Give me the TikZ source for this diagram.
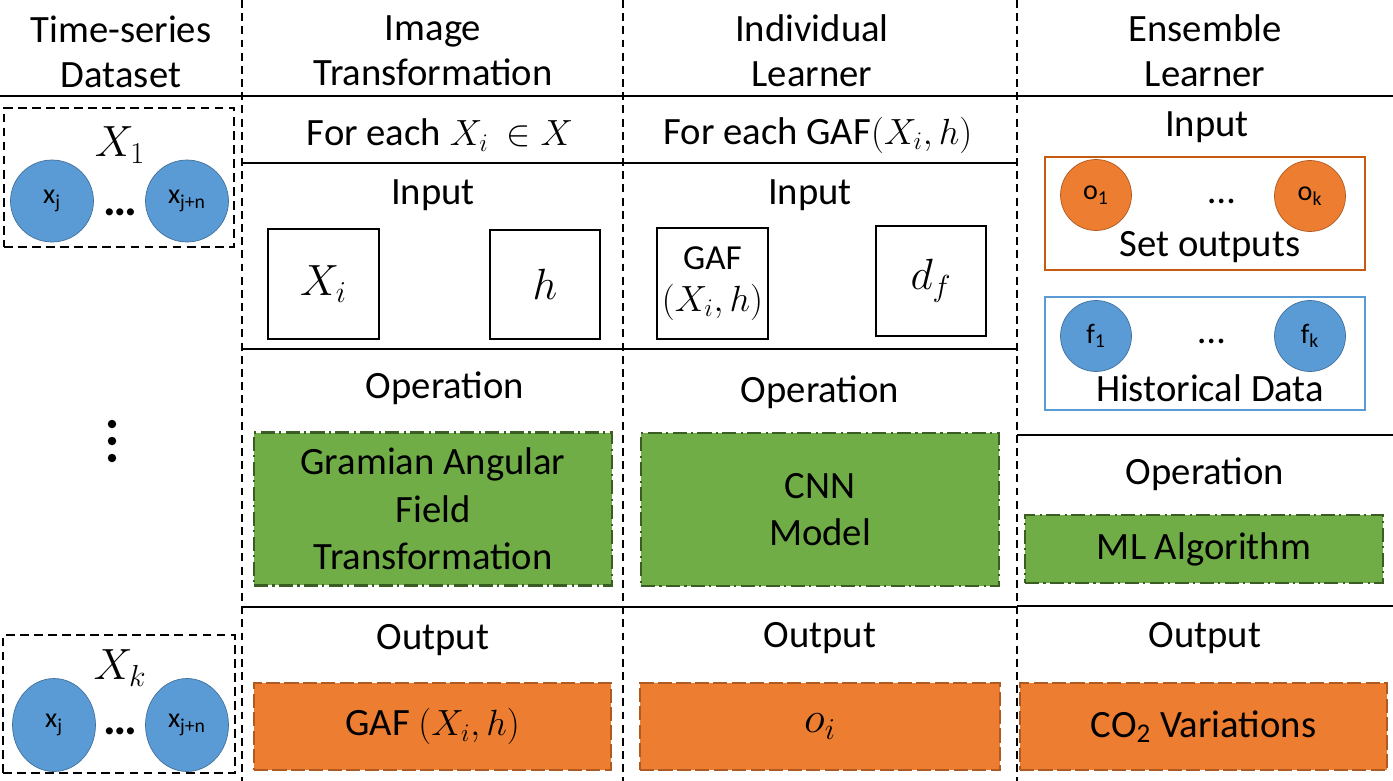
\documentclass[tikz,border=0pt]{standalone}
\usepackage{fontspec, tikz}
\setmainfont{Carlito}
\usetikzlibrary{shapes.geometric}
\definecolor{ptblue}{HTML}{5B9BD5}
\definecolor{ptblueD}{HTML}{41719C}
\definecolor{outorange}{HTML}{ED7D31}
\definecolor{outorangeD}{HTML}{AE5A21}
\definecolor{setorange}{HTML}{C55A11}
\definecolor{opgreen}{HTML}{70AD47}
\definecolor{opgreenD}{HTML}{3A5D23}

\tikzset{
  txt/.style={font=\fontsize{22}{25.6}\selectfont, align=center, inner sep=0pt},
  bigmath/.style={font=\fontsize{27}{30}\selectfont, inner sep=0pt},
  bigdots/.style={font=\fontsize{27}{30}\selectfont\bfseries, inner sep=0pt},
  colsep/.style={line width=0.85pt, dash pattern=on 4.5pt off 3pt},
  rowsep/.style={line width=1.1pt},
  databox/.style={draw, line width=1pt, dash pattern=on 5pt off 3pt, inner sep=0pt},
  inbox/.style={draw, line width=1.1pt, inner sep=0pt, font=\fontsize{27}{30}\selectfont},
  opbox/.style={draw=opgreenD, fill=opgreen, line width=1.5pt,
    dash pattern=on 8pt off 2.5pt on 1.2pt off 2.5pt, inner sep=0pt,
    align=center, font=\fontsize{22}{27}\selectfont},
  outbox/.style={draw=outorangeD, fill=outorange, line width=1.5pt,
    dash pattern=on 8pt off 2.5pt, inner sep=0pt, align=center,
    font=\fontsize{22}{26}\selectfont},
  xpoint/.style={ellipse, draw=ptblueD, fill=ptblue, minimum width=1.66cm,
    minimum height=1.66cm, inner sep=0pt, font=\fontsize{16}{19}\selectfont},
  opoint/.style={circle, draw=outorangeD, fill=outorange, minimum size=1.42cm,
    inner sep=0pt, font=\fontsize{16}{19}\selectfont},
  fpoint/.style={circle, draw=ptblueD, fill=ptblue, minimum size=1.42cm,
    inner sep=0pt, font=\fontsize{16}{19}\selectfont}
}

\begin{document}
\begin{tikzpicture}[x=0.02cm, y=-0.02cm]
  \useasboundingbox (0,0) rectangle (1393,781);

  % column and row separators
  \foreach \cx in {242,623,1017}
    \draw[colsep] (\cx,0) -- (\cx,781);
  \draw[rowsep] (0,96) -- (1393,96);
  \draw[rowsep] (242,163) -- (1017,163);
  \draw[rowsep] (242,349) -- (1017,349);
  \draw[rowsep] (242,607) -- (1017,607);
  \draw[rowsep] (1017,435) -- (1393,435);
  \draw[rowsep] (1017,606) -- (1393,606);

  % headers
  \node[txt] (hdData) at (121,52) {Time-series\\Dataset};
  \node[txt] (hdImg) at (433,51) {Image\\Transformation};
  \node[txt] (hdInd) at (812,51) {Individual\\Learner};
  \node[txt] (hdEns) at (1205,51) {Ensemble\\Learner};

  % time-series dataset
  \node[databox, minimum width=4.6cm, minimum height=2.78cm] (ds1) at (119,177.5) {};
  \node[bigmath] (ds1lbl) at (120,145) {$X_1$};
  \node[xpoint, minimum height=1.64cm] (x1a) at (52,201) {x\textsubscript{j}};
  \node[xpoint, minimum height=1.64cm] (x1b) at (187,201) {x\textsubscript{j+n}};
  \node[bigdots, anchor=base] (x1dots) at (120,215) {…};
  \foreach \yy in {424,441,458}
    \fill (112,\yy) circle (0.085cm);
  \node[databox, minimum width=4.64cm, minimum height=2.76cm] (dsk) at (119,704) {};
  \node[bigmath] (dsklbl) at (120,668) {$X_k$};
  \node[xpoint, minimum height=1.86cm] (xka) at (54,725) {x\textsubscript{j}};
  \node[xpoint, minimum height=1.86cm] (xkb) at (187,725) {x\textsubscript{j+n}};
  \node[bigdots, anchor=base] (xkdots) at (120,734) {…};

  % image transformation
  \node[txt] (eachImg) at (440,135) {For each $X_i$ \ $\in X$};
  \node[txt] (inImg) at (433,195) {Input};
  \node[inbox, minimum width=2.22cm, minimum height=2.2cm] (boxXi) at (323.5,284) {$X_i$};
  \node[inbox, minimum width=2.2cm, minimum height=2.18cm] (boxH) at (545,284.5) {$h$};
  \node[txt] (opImg) at (445,388) {Operation};
  \node[opbox, minimum width=7.16cm, minimum height=3.06cm] (gafT) at (433,509)
    {Gramian Angular\\Field\\Transformation};
  \node[txt] (outImg) at (433,640) {Output};
  \node[outbox, minimum width=7.14cm, minimum height=1.74cm] (gafOut) at (432.5,726.5)
    {GAF $(X_i,h)$};

  % individual learner
  \node[txt] (eachInd) at (818,135) {For each GAF$(X_i,h)$};
  \node[txt] (inInd) at (810,195) {Input};
  \node[inbox, minimum width=2.22cm, minimum height=2.22cm,
    font=\fontsize{20}{24}\selectfont, align=center] (boxGaf) at (712.5,283.5) {GAF\\$(X_i,h)$};
  \node[inbox, minimum width=2.2cm, minimum height=2.2cm] (boxDf) at (931,281) {$d_f$};
  \node[txt] (opInd) at (820,392) {Operation};
  \node[opbox, minimum width=7.16cm, minimum height=3.06cm] (cnn) at (820,509.5)
    {CNN\\Model};
  \node[txt] (outInd) at (820,638) {Output};
  \node[outbox, minimum width=7.2cm, minimum height=1.74cm,
    font=\fontsize{25}{28}\selectfont] (oiOut) at (820,726.5) {$o_i$};

  % ensemble learner
  \node[txt] (inEns) at (1207,127) {Input};
  \node[draw=setorange, line width=1.3pt, minimum width=6.4cm, minimum height=2.26cm]
    (setBox) at (1205,213.5) {};
  \node[opoint] (o1) at (1096,195) {o\textsubscript{1}};
  \node[opoint] (ok) at (1310,196) {o\textsubscript{k}};
  \node[txt, anchor=base] (odots) at (1222,203) {…};
  \node[txt] (setLbl) at (1210,247) {Set outputs};
  \node[draw=ptblue, line width=1.3pt, minimum width=6.4cm, minimum height=2.26cm]
    (histBox) at (1205,353.5) {};
  \node[fpoint] (f1) at (1096,336) {f\textsubscript{1}};
  \node[fpoint] (fk) at (1310,336) {f\textsubscript{k}};
  \node[txt, anchor=base] (fdots) at (1212,343) {…};
  \node[txt] (histLbl) at (1210,388) {Historical Data};
  \node[txt] (opEns) at (1205,474) {Operation};
  \node[opbox, minimum width=7.16cm, minimum height=1.36cm] (mlAlg) at (1204,549)
    {ML Algorithm};
  \node[txt] (outEns) at (1205,638) {Output};
  \node[outbox, minimum width=7.34cm, minimum height=1.74cm] (co2Out) at (1203.5,726.5)
    {CO\textsubscript{2} Variations};
\end{tikzpicture}
\end{document}
